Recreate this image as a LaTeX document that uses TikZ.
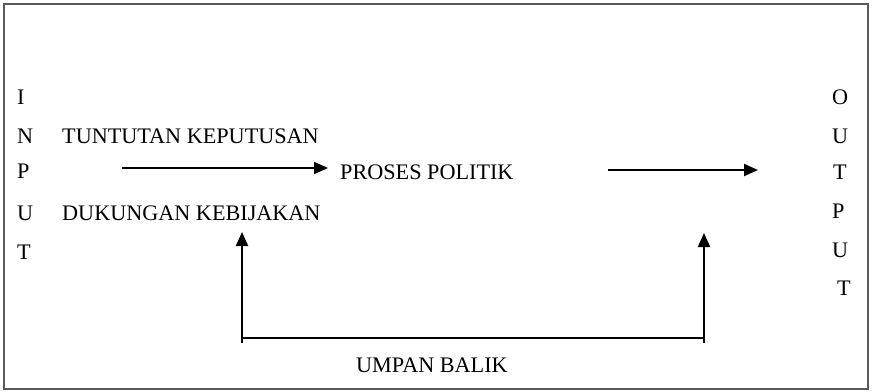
\documentclass[tikz,border=0pt]{standalone}
\usepackage{fontspec}
\setmainfont{Liberation Serif}
\usetikzlibrary{arrows.meta}
\begin{document}
\begin{tikzpicture}[x=1pt,y=-1pt,
  lbl/.style={anchor=base west,inner sep=0pt,font=\fontsize{22.2}{26}\selectfont},
  flow/.style={line width=2pt,-{Triangle[length=14pt,width=12pt]}},
  plain/.style={line width=2pt}]
  \useasboundingbox (0,0) rectangle (872,391);
  % outer frame
  \draw[line width=1.5pt,draw=black!65] (4,4) rectangle (868,389);

  % vertical INPUT letters
  \node[lbl] (i1) at (17,104) {I};
  \node[lbl] (i2) at (17,143) {N};
  \node[lbl] (i3) at (17,178) {P};
  \node[lbl] (i4) at (17,220) {U};
  \node[lbl] (i5) at (17,259) {T};

  % vertical OUTPUT letters
  \node[lbl] (o1) at (832,104) {O};
  \node[lbl] (o2) at (832,143) {U};
  \node[lbl] (o3) at (833,179) {T};
  \node[lbl] (o4) at (832,218) {P};
  \node[lbl] (o5) at (832,257) {U};
  \node[lbl] (o6) at (837,295) {T};

  % labels
  \node[lbl] (tuntutan) at (62,143) {TUNTUTAN KEPUTUSAN};
  \node[lbl] (dukungan) at (62,220) {DUKUNGAN KEBIJAKAN};
  \node[lbl] (proses) at (340,179) {PROSES POLITIK};
  \node[lbl] (umpan) at (356,372) {UMPAN BALIK};

  % arrow anchor points
  \coordinate (inStart) at (122,168);
  \coordinate (inEnd) at (328,168);
  \coordinate (outStart) at (608,170);
  \coordinate (outEnd) at (758,170);
  \coordinate (fbLtip) at (242,232);
  \coordinate (fbLbot) at (242,343);
  \coordinate (fbRtip) at (704,233);
  \coordinate (fbRbot) at (704,343);
  \coordinate (fbL) at (242,338);
  \coordinate (fbR) at (704,338);

  % main flow
  \draw[flow] (inStart) -- (inEnd);
  \draw[flow] (outStart) -- (outEnd);

  % feedback loop
  \draw[plain] (fbL) -- (fbR);
  \draw[flow] (fbLbot) -- (fbLtip);
  \draw[flow] (fbRbot) -- (fbRtip);
\end{tikzpicture}
\end{document}
